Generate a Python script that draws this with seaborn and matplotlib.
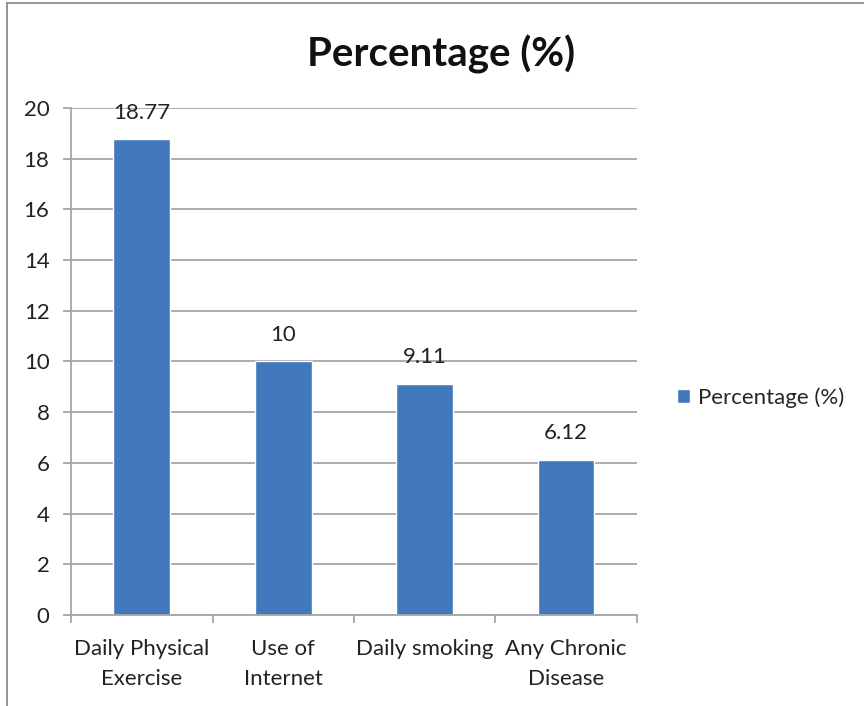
import numpy as np
import pandas as pd
import seaborn as sns
import matplotlib.pyplot as plt
from matplotlib.lines import Line2D

# data
categories = ["Daily Physical\nExercise", "Use of\nInternet", "Daily smoking", "Any Chronic\nDisease"]
values = [18.77, 10, 9.11, 6.12]
value_labels = ["18.77", "10", "9.11", "6.12"]
series_name = "Percentage (%)"

sns.set_theme(style="white")
plt.rcParams['font.family'] = ['Lato', 'DejaVu Sans']

bar_color = "#4279bd"
grid_color = "#a6a6a6"
text_color = "#222222"
fs = 16

df = pd.DataFrame({"category": categories, "value": values, "series": series_name})

fig = plt.figure(figsize=(8.64, 7.06), dpi=100)
ax = fig.add_axes([0.0822, 0.129, 0.655, 0.718])

sns.barplot(data=df, x="category", y="value", hue="series", palette=[bar_color],
            width=0.4, ax=ax, saturation=1, legend=True)

ax.set_ylim(0, 20)
ax.set_xlim(-0.5, len(categories) - 0.5)
ax.set_yticks(np.arange(0, 21, 2))
ax.set_xlabel("")
ax.set_ylabel("")

# gridlines
ax.yaxis.grid(True, color=grid_color, linewidth=1.3)
ax.set_axisbelow(True)

for side in ["top", "right"]:
    ax.spines[side].set_visible(False)
for side in ["left", "bottom"]:
    ax.spines[side].set_color(grid_color)
    ax.spines[side].set_linewidth(1.3)

# ticks: y outward, x ticks at category borders
ax.tick_params(axis="y", which="major", left=True, length=5.5, width=1.3, color=grid_color,
               pad=10, labelsize=fs, labelcolor=text_color)
ax.set_xticks(np.arange(-0.5, len(categories), 1.0), minor=True)
ax.tick_params(axis="x", which="minor", bottom=True, length=6, width=1.3, color=grid_color)
ax.tick_params(axis="x", which="major", bottom=False, length=0, pad=17, labelsize=fs,
               labelcolor=text_color)
for lbl in ax.get_xticklabels():
    lbl.set_linespacing(1.65)

ax.bar_label(ax.containers[0], labels=value_labels, padding=12, fontsize=fs, color=text_color)

ax.legend(loc="center left", bbox_to_anchor=(1.055, 0.428), frameon=False, fontsize=fs,
          handlelength=0.6, handleheight=0.6, handletextpad=0.35, borderaxespad=0)

fig.suptitle("Percentage (%)", x=0.51, y=0.951, fontsize=29, fontweight="bold", color="#111111")

# outer chart border (left and top visible)
fig.add_artist(Line2D([0.0081, 0.0081], [0, 0.9957], transform=fig.transFigure,
                      color="#8c8c8c", linewidth=1.3))
fig.add_artist(Line2D([0.0081, 1], [0.9957, 0.9957], transform=fig.transFigure,
                      color="#8c8c8c", linewidth=1.3))

fig.savefig("out.png", dpi=100, facecolor="white")
